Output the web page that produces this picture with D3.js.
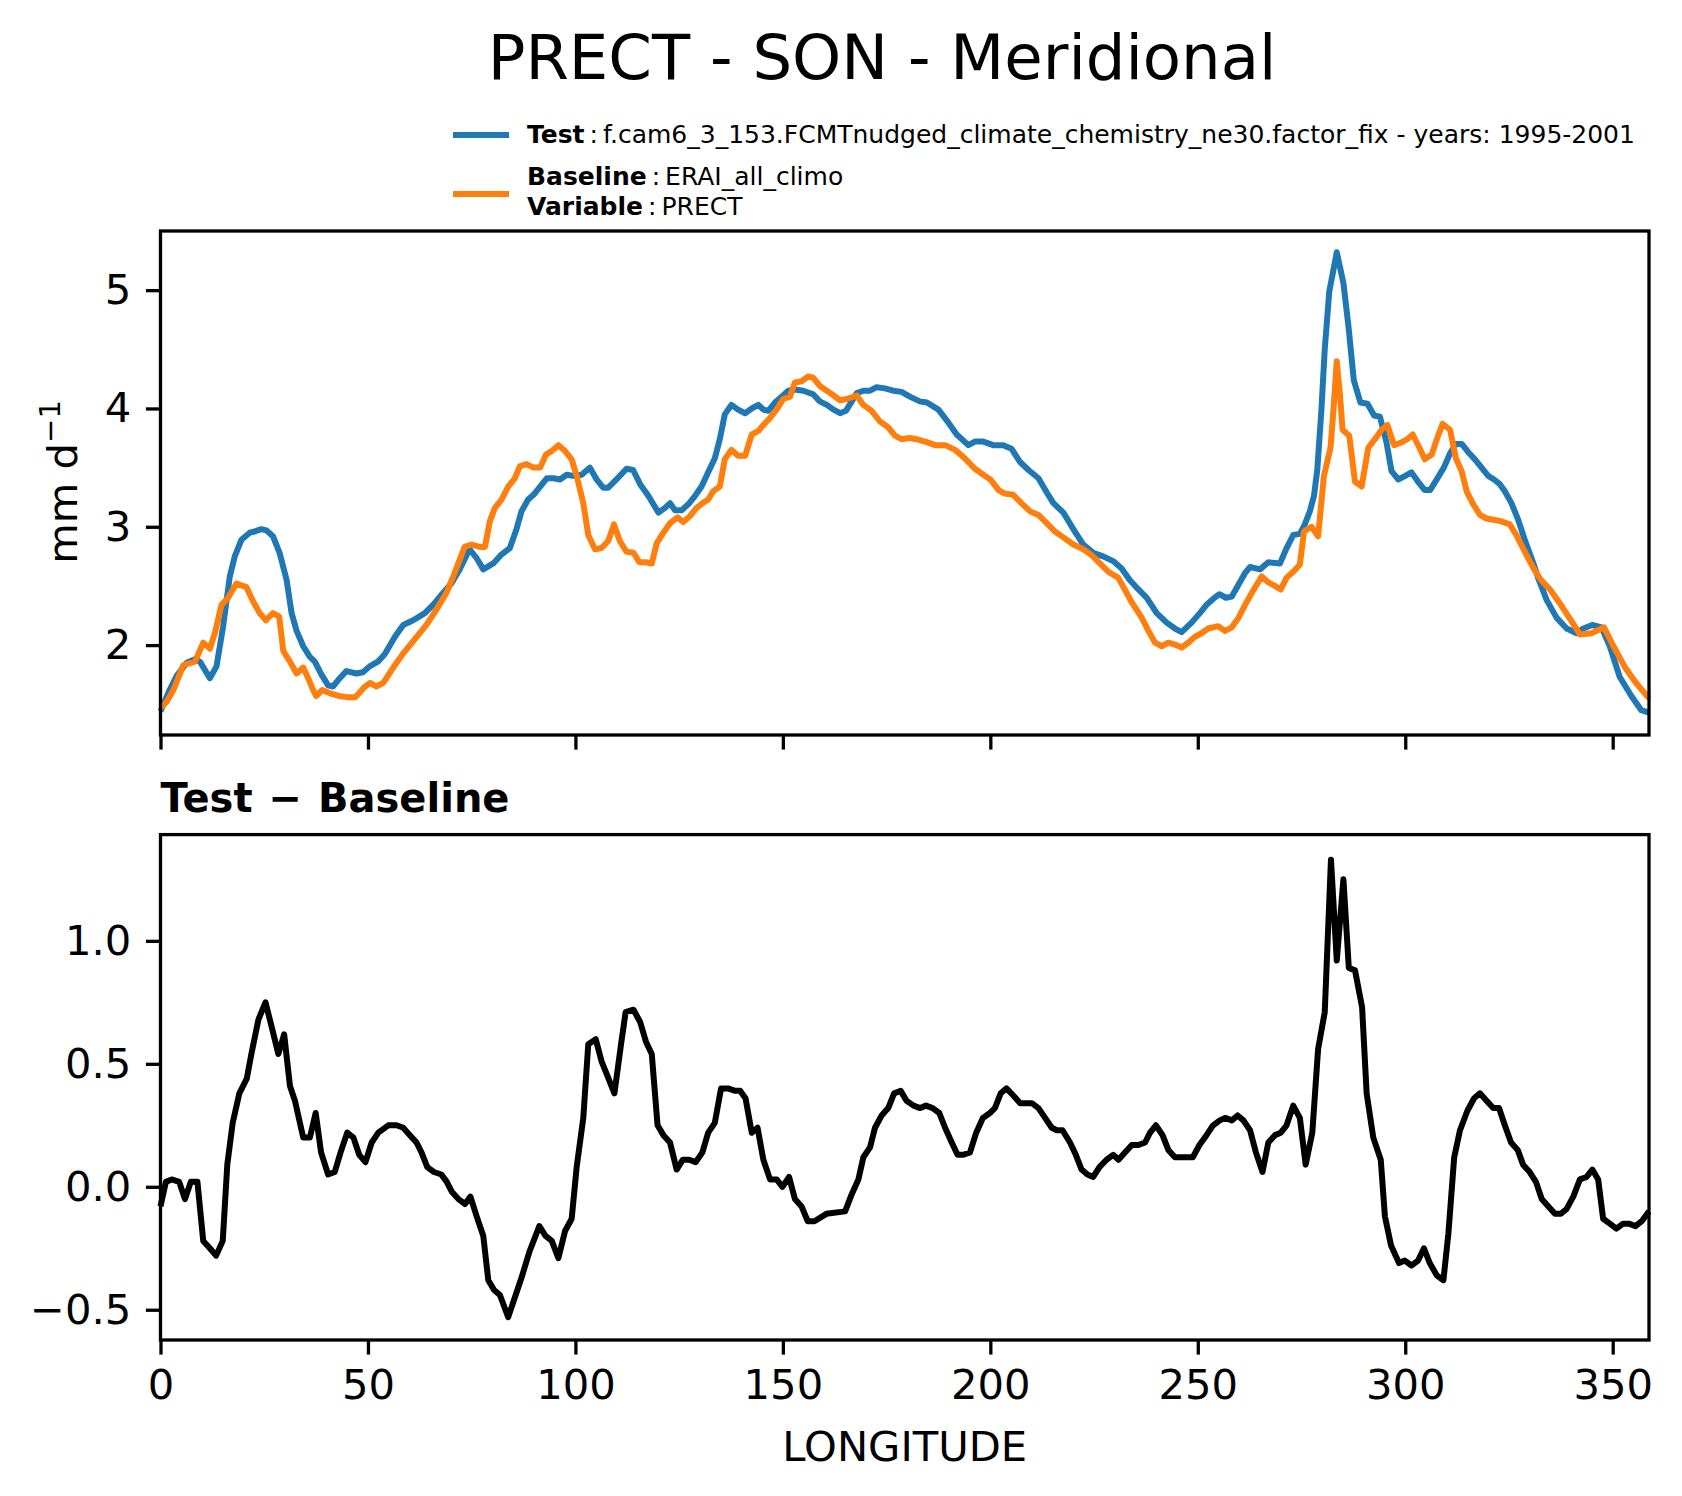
<!DOCTYPE html>
<html>
<head>
<meta charset="utf-8">
<script src="https://d3js.org/d3.v7.min.js"></script>
<style>
  body { margin: 0; background: #fff; }
  svg { display: block; font-family: "DejaVu Sans", sans-serif; }
</style>
</head>
<body>
<div id="chart"></div>
<script>
// valeurs : [longitude, mm/jour]
const testPts = [
  [0,1.44],[2.2,1.62],[3.9,1.74],[6.3,1.85],[8.3,1.88],[9.5,1.86],[11.9,1.72],[13.5,1.82],[15.1,2.16],[16.7,2.58],
  [17.9,2.75],[19.5,2.89],[21.5,2.95],[22.7,2.96],[24.3,2.98],[25.5,2.97],[27.1,2.92],[28.7,2.78],[30.4,2.55],[31.6,2.27],
  [32.8,2.12],[34.4,1.99],[36,1.90],[37.2,1.86],[38.8,1.75],[40.4,1.66],[41.6,1.65],[43.2,1.72],[44.8,1.78],[47.2,1.76],
  [48.8,1.77],[50.4,1.82],[52.4,1.86],[54,1.92],[56.5,2.07],[58.5,2.17],[60.9,2.21],[63.7,2.27],[65.7,2.34],[68.1,2.44],
  [70.1,2.52],[72.1,2.64],[74.5,2.81],[76.1,2.74],[77.8,2.64],[80.2,2.69],[82,2.76],[84.2,2.82],[85.8,2.98],[87,3.13],
  [88.6,3.23],[89.9,3.27],[91.5,3.34],[93.1,3.41],[94.7,3.41],[96.3,3.40],[97.9,3.44],[99.5,3.43],[101.5,3.44],[103.5,3.50],
  [105.1,3.40],[106.7,3.33],[107.9,3.33],[109.9,3.40],[112.3,3.49],[113.9,3.48],[115.6,3.36],[117.6,3.26],[118.8,3.19],[120,3.12],
  [121.6,3.16],[122.8,3.20],[124,3.14],[125.6,3.14],[127.2,3.19],[128.8,3.26],[130.4,3.34],[132,3.46],[133.6,3.58],[134.8,3.74],
  [136,3.95],[137.6,4.03],[139.2,3.99],[140.9,3.96],[142.5,4.00],[144.1,4.03],[145.3,3.99],[146.5,3.98],[148.1,4.05],[149.7,4.10],
  [151.3,4.15],[152.9,4.16],[154.9,4.15],[157.3,4.12],[158.9,4.06],[160.6,4.03],[162.2,3.99],[163.8,3.96],[165.2,3.98],[166.6,4.06],
  [167.8,4.13],[169.4,4.15],[171,4.15],[172.6,4.18],[174.6,4.17],[176.6,4.15],[178.6,4.14],[180.6,4.10],[183,4.06],[184.7,4.05],
  [187.5,3.99],[189.9,3.88],[191.9,3.78],[194.7,3.69],[196.3,3.72],[198.3,3.72],[200.7,3.69],[203.1,3.69],[205.1,3.66],[207.1,3.55],
  [209.2,3.48],[211.6,3.41],[213.6,3.29],[215.2,3.20],[217.6,3.12],[220,2.98],[222.4,2.85],[224.8,2.78],[227.2,2.75],[229.6,2.71],
  [231.6,2.65],[233.6,2.55],[235.7,2.47],[237.7,2.40],[240.1,2.27],[242.5,2.19],[244.5,2.14],[246.1,2.11],[248.5,2.19],[250.5,2.27],
  [252.1,2.34],[253.7,2.39],[255.2,2.43],[256.8,2.40],[258.2,2.41],[259.8,2.51],[261.4,2.61],[262.6,2.66],[265,2.64],[267,2.70],
  [269.8,2.69],[271.4,2.82],[273,2.93],[274.6,2.94],[275.8,3.02],[277,3.13],[278,3.26],[278.8,3.48],[279.8,3.99],[280.6,4.50],
  [281.7,4.99],[283.5,5.32],[285.1,5.06],[286.3,4.70],[287.6,4.24],[289.2,4.05],[290.9,4.04],[292.5,3.94],[293.9,3.93],[295.5,3.71],
  [296.7,3.47],[298.3,3.40],[300,3.43],[301.5,3.46],[303.1,3.38],[304.7,3.31],[306,3.31],[307.6,3.40],[309.3,3.50],[310.8,3.62],
  [312.2,3.70],[313.6,3.70],[315.2,3.63],[316.8,3.57],[318.4,3.50],[320,3.43],[321.4,3.40],[322.8,3.36],[324,3.30],[325.6,3.20],
  [327.2,3.06],[328.8,2.89],[330.9,2.69],[332,2.57],[334.1,2.38],[336.5,2.23],[338.9,2.14],[341.3,2.10],[342.9,2.14],[345.1,2.17],
  [347.3,2.15],[349.3,1.99],[351.7,1.73],[354.5,1.57],[356.9,1.45],[358.75,1.43]
];

const basePts = [
  [0,1.47],[1.5,1.52],[3.1,1.62],[5.5,1.83],[8.3,1.86],[10.3,2.02],[11.9,1.97],[13.1,2.10],[14.7,2.34],[16.3,2.40],
  [18.3,2.52],[20.7,2.49],[22.3,2.37],[23.9,2.27],[25.4,2.21],[27.1,2.27],[28.6,2.24],[29.6,1.95],[31.2,1.86],[32.8,1.76],
  [34.4,1.81],[35.6,1.72],[36.8,1.62],[37.5,1.57],[39,1.62],[41,1.59],[43,1.57],[45,1.56],[47,1.56],[49,1.64],
  [50.5,1.68],[52,1.65],[53.7,1.68],[56.1,1.81],[58.5,1.93],[61.3,2.05],[64.1,2.17],[66.5,2.30],[68.9,2.44],[70.9,2.61],
  [73.3,2.83],[74.9,2.85],[77,2.83],[78.2,2.83],[79.4,3.05],[80.6,3.16],[82.2,3.23],[83.8,3.34],[85.4,3.41],[86.6,3.51],
  [88.2,3.53],[89.9,3.50],[91.5,3.50],[92.9,3.61],[94.3,3.64],[95.9,3.69],[97.5,3.64],[99.1,3.57],[100.3,3.43],[101.9,3.20],
  [103.1,2.93],[104.7,2.81],[106.3,2.82],[107.9,2.88],[109.3,3.02],[110.7,2.88],[112.3,2.79],[114,2.78],[115.4,2.70],[117,2.70],
  [118.4,2.69],[119.6,2.86],[121.2,2.95],[122.8,3.03],[124.6,3.08],[126,3.04],[127.6,3.09],[129.2,3.16],[130.7,3.20],[132,3.23],
  [133.2,3.30],[134.8,3.34],[136,3.57],[137.6,3.65],[139.2,3.60],[140.9,3.60],[142.5,3.78],[144.1,3.81],[145.3,3.86],[146.9,3.92],
  [148.5,3.99],[150.1,4.08],[151.7,4.10],[152.9,4.22],[154.5,4.23],[156.1,4.27],[157.3,4.26],[158.9,4.19],[161.4,4.13],[163.8,4.07],
  [165.4,4.08],[167.8,4.11],[169.4,4.03],[171.4,3.98],[173.4,3.89],[175.4,3.84],[177,3.77],[178.6,3.74],[180.6,3.75],[182.2,3.74],
  [184.3,3.72],[186.7,3.69],[189.1,3.69],[191.5,3.65],[193.5,3.59],[196.3,3.49],[198.3,3.44],[200,3.40],[202,3.31],[203.5,3.28],
  [205.5,3.27],[207.5,3.20],[209.6,3.13],[211.6,3.10],[213.6,3.03],[215.6,2.96],[217.6,2.91],[220,2.85],[222.4,2.81],[224.4,2.76],
  [226.4,2.69],[228.4,2.62],[230.8,2.57],[232.4,2.47],[234.1,2.36],[236.5,2.23],[238.1,2.12],[239.7,2.02],[241.3,1.99],[242.9,2.02],
  [244.9,2.00],[246.1,1.98],[247.7,2.02],[249.3,2.07],[250.9,2.10],[252.5,2.14],[254.9,2.16],[256.6,2.12],[258.2,2.15],[259.8,2.23],
  [261.4,2.34],[263,2.44],[265.4,2.58],[267,2.53],[268.6,2.50],[270,2.47],[271.4,2.57],[273,2.62],[274.6,2.68],[275.6,2.96],
  [277.4,3.00],[279,2.92],[280.4,3.43],[282,3.67],[282.7,3.99],[283.5,4.40],[284.3,4.10],[284.9,3.82],[286.5,3.77],[287.9,3.38],
  [289.5,3.34],[291.1,3.67],[292.7,3.74],[294.3,3.82],[295.7,3.86],[297.3,3.69],[298.9,3.71],[300.5,3.74],[301.8,3.78],[303.4,3.67],
  [304.7,3.57],[306.4,3.61],[307.6,3.74],[309,3.87],[310.8,3.82],[312.2,3.58],[313.6,3.47],[314.8,3.30],[316.4,3.19],[318,3.10],
  [319.6,3.07],[321.2,3.06],[322.8,3.05],[325.2,3.02],[326.8,2.93],[328.8,2.79],[330.9,2.65],[332.5,2.56],[334.9,2.47],[337.7,2.33],
  [340.1,2.20],[342.1,2.09],[344.9,2.10],[347.9,2.15],[350.2,1.99],[353,1.81],[355.4,1.69],[358.75,1.55]
];

const diffPts = [
  [0,-0.08],[1.3,0.02],[2.7,0.03],[4.5,0.02],[5.9,-0.05],[7.3,0.02],[8.9,0.02],[10.3,-0.22],[11.9,-0.25],[13.4,-0.28],
  [15,-0.22],[16.1,0.09],[17.4,0.26],[19,0.38],[20.8,0.44],[21.9,0.54],[23.6,0.68],[25.3,0.75],[26.8,0.65],[28.4,0.54],
  [29.8,0.62],[31.2,0.41],[32.4,0.35],[34.4,0.20],[36,0.20],[37.4,0.30],[38.7,0.14],[40.4,0.05],[42,0.06],[43.4,0.14],
  [45,0.22],[46.5,0.20],[47.9,0.13],[49.4,0.10],[50.9,0.18],[52.5,0.22],[54.9,0.25],[56.9,0.25],[58.5,0.24],[60.1,0.21],
  [61.7,0.18],[62.9,0.14],[64.3,0.08],[65.9,0.06],[67.7,0.05],[69,0.02],[70.2,-0.02],[71.8,-0.05],[73.4,-0.07],[74.7,-0.04],
  [76.2,-0.12],[77.8,-0.20],[79,-0.38],[80.4,-0.42],[81.8,-0.44],[83.8,-0.53],[85.4,-0.45],[87,-0.37],[89,-0.26],[91.3,-0.16],
  [92.8,-0.20],[94.3,-0.22],[95.9,-0.29],[97.5,-0.18],[99.1,-0.13],[100.3,0.08],[101.9,0.28],[103.1,0.58],[104.9,0.60],[106.3,0.51],
  [107.5,0.46],[109.4,0.38],[111,0.58],[112.1,0.71],[114,0.72],[115.6,0.67],[117,0.59],[118.4,0.54],[119.8,0.25],[121.2,0.21],
  [122.8,0.18],[124.4,0.07],[125.9,0.11],[127.4,0.11],[129,0.10],[130.6,0.14],[132,0.22],[133.6,0.26],[135.1,0.40],[136.8,0.40],
  [138.5,0.39],[139.7,0.39],[141,0.36],[142.5,0.22],[143.9,0.24],[145.3,0.11],[146.9,0.03],[148.5,0.03],[149.9,0.00],[151.5,0.04],
  [152.9,-0.05],[154.5,-0.08],[156,-0.14],[157.6,-0.14],[160.5,-0.11],[165,-0.10],[166.6,-0.03],[168.2,0.03],[169.4,0.12],[171,0.16],
  [172.2,0.24],[173.8,0.29],[175.4,0.32],[176.8,0.38],[178.4,0.39],[179.8,0.35],[181.5,0.33],[183.1,0.32],[184.5,0.33],[186.1,0.32],
  [187.7,0.30],[189.1,0.24],[190.7,0.18],[192.1,0.13],[193.5,0.13],[195.1,0.14],[196.6,0.22],[198.2,0.28],[199.9,0.30],[201.1,0.32],
  [202.5,0.38],[203.9,0.40],[205.6,0.37],[207.2,0.34],[210,0.34],[211.6,0.32],[213.2,0.28],[214.8,0.24],[216,0.23],[217.4,0.23],
  [219.2,0.18],[220.6,0.13],[222,0.07],[223.4,0.05],[224.8,0.04],[226.3,0.08],[228,0.11],[229.6,0.13],[230.9,0.11],[232.5,0.14],
  [234.1,0.17],[235.7,0.17],[237.3,0.18],[238.5,0.22],[239.9,0.25],[241.5,0.21],[242.9,0.15],[244.5,0.12],[246.5,0.12],[248.8,0.12],
  [250.4,0.17],[252.1,0.21],[253.7,0.25],[255.3,0.27],[256.6,0.28],[258.2,0.27],[259.6,0.29],[261,0.27],[262.6,0.23],[264,0.14],
  [265.6,0.06],[267,0.18],[268.6,0.21],[270,0.22],[271.4,0.25],[273,0.33],[274.6,0.28],[276,0.09],[277.6,0.22],[279,0.56],
  [280.6,0.71],[282.1,1.33],[283.5,0.92],[285.1,1.25],[286.4,0.89],[287.9,0.88],[289.6,0.73],[290.7,0.38],[292.3,0.20],[294.1,0.11],
  [295.1,-0.12],[296.6,-0.24],[298.5,-0.31],[299.9,-0.30],[301.5,-0.32],[303.1,-0.30],[304.5,-0.25],[305.9,-0.31],[307.6,-0.36],[309.2,-0.38],
  [310.4,-0.19],[311.8,0.12],[313.2,0.23],[315,0.31],[316.6,0.36],[318,0.38],[319.6,0.35],[321.2,0.32],[322.6,0.32],[324,0.25],
  [325.5,0.18],[327.1,0.15],[328.4,0.09],[330,0.06],[331.5,0.02],[332.9,-0.05],[334.5,-0.08],[336.1,-0.11],[337.5,-0.11],[338.9,-0.09],
  [340.5,-0.04],[342.1,0.03],[343.7,0.04],[345.1,0.07],[346.5,0.03],[347.7,-0.13],[349.3,-0.15],[350.9,-0.17],[352.5,-0.15],[353.9,-0.15],
  [355.5,-0.16],[357,-0.14],[358.75,-0.10]
];

const xTicks = [0, 50, 100, 150, 200, 250, 300, 350];
const yTicksTop = [2, 3, 4, 5];
const yTicksDiff = [-0.5, 0.0, 0.5, 1.0];

const titre = "PRECT - SON - Meridional";
const legendeTest = ["Test", "f.cam6_3_153.FCMTnudged_climate_chemistry_ne30.factor_fix - years: 1995-2001"];
const legendeBase = ["Baseline", "ERAI_all_climo"];
const legendeVar = ["Variable", "PRECT"];

const couleurTest = "#1f77b4";
const couleurBase = "#ff7f0e";

// Dimensions (pixels réels de la figure)
const width = 1682, height = 1496;
const left = 160.5, right = 1649;
const top1 = 231, bot1 = 735;
const top2 = 834.6, bot2 = 1340;
const tickLen = 14.6, tickW = 3.3, lineW = 6;
const fontTick = 41.7;

const svg = d3.select("#chart").append("svg")
    .attr("width", width)
    .attr("height", height);

const x = d3.scaleLinear().domain([0, 358.75]).range([left, right]);
const y1 = d3.scaleLinear().domain([1.24, 5.50]).range([bot1, top1]);
const y2 = d3.scaleLinear().domain([-0.623, 1.432]).range([bot2, top2]);

const fmtMinus = d => d3.format(".1f")(d).replace("-", "\u2212");

// Axe et style commun
function styleAxis(g) {
    g.select(".domain").remove();
    g.selectAll(".tick line").attr("stroke", "#000").attr("stroke-width", tickW);
    g.selectAll(".tick text")
        .attr("fill", "#000")
        .style("font-family", "DejaVu Sans")
        .style("font-size", fontTick + "px");
}

// Panneau du haut
svg.append("g")
    .attr("transform", `translate(0,${bot1})`)
    .call(d3.axisBottom(x).tickValues(xTicks).tickFormat("").tickSize(tickLen))
    .call(styleAxis);

svg.append("g")
    .attr("transform", `translate(${left},0)`)
    .call(d3.axisLeft(y1).tickValues(yTicksTop).tickFormat(d3.format("d")).tickSize(tickLen).tickPadding(tickLen))
    .call(styleAxis);

const line1 = d3.line().x(d => x(d[0])).y(d => y1(d[1]));

svg.append("path")
    .datum(testPts)
    .attr("d", line1)
    .attr("fill", "none")
    .attr("stroke", couleurTest)
    .attr("stroke-width", lineW)
    .attr("stroke-linejoin", "round");

svg.append("path")
    .datum(basePts)
    .attr("d", line1)
    .attr("fill", "none")
    .attr("stroke", couleurBase)
    .attr("stroke-width", lineW)
    .attr("stroke-linejoin", "round");

// Panneau du bas
svg.append("g")
    .attr("transform", `translate(0,${bot2})`)
    .call(d3.axisBottom(x).tickValues(xTicks).tickFormat(d3.format("d")).tickSize(tickLen).tickPadding(tickLen))
    .call(styleAxis);

svg.append("g")
    .attr("transform", `translate(${left},0)`)
    .call(d3.axisLeft(y2).tickValues(yTicksDiff).tickFormat(fmtMinus).tickSize(tickLen).tickPadding(tickLen))
    .call(styleAxis);

const line2 = d3.line().x(d => x(d[0])).y(d => y2(d[1]));

svg.append("path")
    .datum(diffPts)
    .attr("d", line2)
    .attr("fill", "none")
    .attr("stroke", "#000")
    .attr("stroke-width", lineW)
    .attr("stroke-linejoin", "round");

// Cadres des axes
[[top1, bot1], [top2, bot2]].forEach(([t, b]) => {
    svg.append("rect")
        .attr("x", left).attr("y", t)
        .attr("width", right - left).attr("height", b - t)
        .attr("fill", "none").attr("stroke", "#000").attr("stroke-width", 3.3);
});

// Textes
svg.append("text")
    .attr("x", 882).attr("y", 78.6)
    .attr("text-anchor", "middle")
    .style("font-size", "62.5px")
    .text(titre);

const ylab = svg.append("text")
    .attr("transform", "translate(77,482) rotate(-90)")
    .attr("text-anchor", "middle")
    .style("font-size", fontTick + "px");
ylab.append("tspan").text("mm d");
ylab.append("tspan").attr("dy", -17).style("font-size", "29px").text("\u22121");

const sousTitre = svg.append("text")
    .attr("x", left).attr("y", 812)
    .style("font-size", "40px")
    .style("font-weight", "bold");
sousTitre.append("tspan").text("Test");
sousTitre.append("tspan").attr("dx", 16).text("\u2212");
sousTitre.append("tspan").attr("dx", 16).text("Baseline");

svg.append("text")
    .attr("x", (left + right) / 2).attr("y", 1461)
    .attr("text-anchor", "middle")
    .style("font-size", fontTick + "px")
    .text("LONGITUDE");

// Légende
const leg = svg.append("g").style("font-size", "25px");
[[135, couleurTest], [194, couleurBase]].forEach(([yy, c]) => {
    leg.append("line")
        .attr("x1", 453).attr("x2", 509)
        .attr("y1", yy).attr("y2", yy)
        .attr("stroke", c).attr("stroke-width", lineW);
});
[[143, legendeTest], [185, legendeBase], [215, legendeVar]].forEach(([yy, parts]) => {
    const t = leg.append("text").attr("x", 527).attr("y", yy);
    t.append("tspan").style("font-weight", "bold").text(parts[0]);
    t.append("tspan").attr("dx", 5).text(":");
    t.append("tspan").attr("dx", 5).text(parts[1]);
});
</script>
</body>
</html>
